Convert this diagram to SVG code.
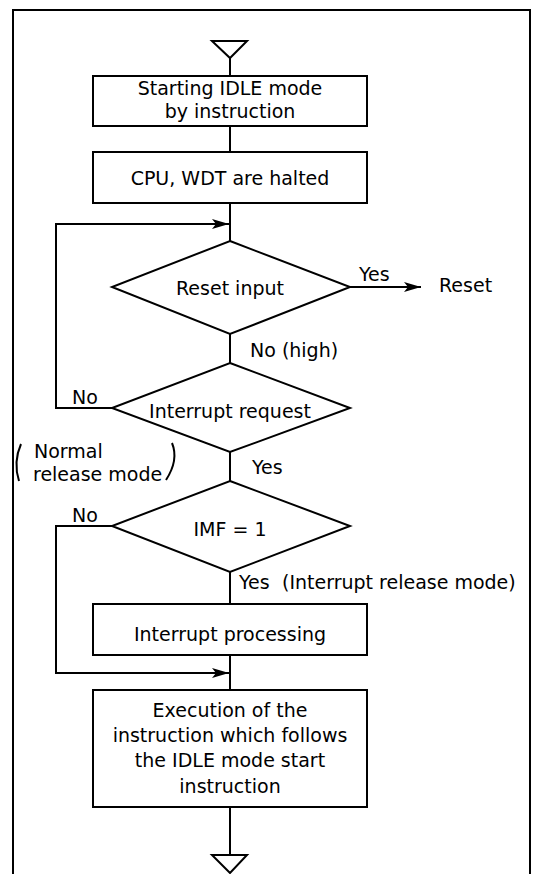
<svg xmlns="http://www.w3.org/2000/svg" width="533" height="874" viewBox="0 0 533 874">
<defs>
<style>
.ln{fill:none;stroke:#000;stroke-width:2}
.bx{fill:#fff;stroke:#000;stroke-width:2}
.t{font-family:"DejaVu Sans","Open Sans",sans-serif;font-size:19px;fill:#000}
.c{text-anchor:middle}
</style>
<marker id="ah" markerWidth="20" markerHeight="12" refX="17" refY="5.5" orient="auto" markerUnits="userSpaceOnUse">
<path d="M0,0.5 L17,5.5 L0,10.5 L4,5.5 z" fill="#000"/>
</marker>
</defs>
<rect width="533" height="874" fill="#fff"/>
<path class="ln" d="M13,874 V10 H530 V874" stroke-width="1.5"/>
<g id="connectors">
<path class="ln" d="M230,58 V76"/>
<path class="ln" d="M230,126 V152"/>
<path class="ln" d="M230,203 V241"/>
<path class="ln" d="M230,334 V363"/>
<path class="ln" d="M230,452 V481"/>
<path class="ln" d="M230,572 V604"/>
<path class="ln" d="M230,655 V690"/>
<path class="ln" d="M230,807 V855"/>
<path class="ln" d="M350,287 H421" marker-end="url(#ah)"/>
<path class="ln" d="M112,408 H56 V224 H229" marker-end="url(#ah)"/>
<path class="ln" d="M112,526 H56 V673 H229" marker-end="url(#ah)"/>
<text class="t" x="359" y="281">Yes</text>
<text class="t" x="250" y="357">No (high)</text>
<text class="t" x="72" y="404">No</text>
<text class="t" x="252" y="474">Yes</text>
<text class="t" x="34" y="458">Normal</text>
<text class="t" x="33" y="481">release mode</text>
<path class="ln" stroke-width="1.5" d="M21,444 Q13,462 19,481"/>
<path class="ln" stroke-width="1.5" d="M172,443 Q179,460 166,480"/>
<text class="t" x="72" y="522">No</text>
<text class="t" x="239" y="589">Yes</text>
<text class="t" x="282" y="589">(Interrupt release mode)</text>
</g>
<g id="start">
<path class="ln" d="M212,41 H247 L230,58 Z"/>
</g>
<g id="box1">
<rect class="bx" x="93" y="76" width="274" height="50"/>
<text class="t c" x="230" y="95">Starting IDLE mode</text>
<text class="t c" x="230" y="118">by instruction</text>
</g>
<g id="box2">
<rect class="bx" x="93" y="152" width="274" height="51"/>
<text class="t c" x="230" y="185">CPU, WDT are halted</text>
</g>
<g id="dec1">
<path class="bx" d="M230,241 L350,287 L230,334 L112,287 Z"/>
<text class="t c" x="230" y="295">Reset input</text>
</g>
<g id="reset">
<text class="t" x="439" y="292">Reset</text>
</g>
<g id="dec2">
<path class="bx" d="M230,363 L350,408 L230,452 L112,408 Z"/>
<text class="t c" x="230" y="418">Interrupt request</text>
</g>
<g id="dec3">
<path class="bx" d="M230,481 L350,526 L230,572 L112,526 Z"/>
<text class="t c" x="230" y="536">IMF = 1</text>
</g>
<g id="box3">
<rect class="bx" x="93" y="604" width="274" height="51"/>
<text class="t c" x="230" y="641">Interrupt processing</text>
</g>
<g id="box4">
<rect class="bx" x="93" y="690" width="274" height="117"/>
<text class="t c" x="230" y="717">Execution of the</text>
<text class="t c" x="230" y="742">instruction which follows</text>
<text class="t c" x="230" y="767">the IDLE mode start</text>
<text class="t c" x="230" y="793">instruction</text>
</g>
<g id="end">
<path class="ln" d="M212,855 H247 L230,873 Z"/>
</g>
</svg>
